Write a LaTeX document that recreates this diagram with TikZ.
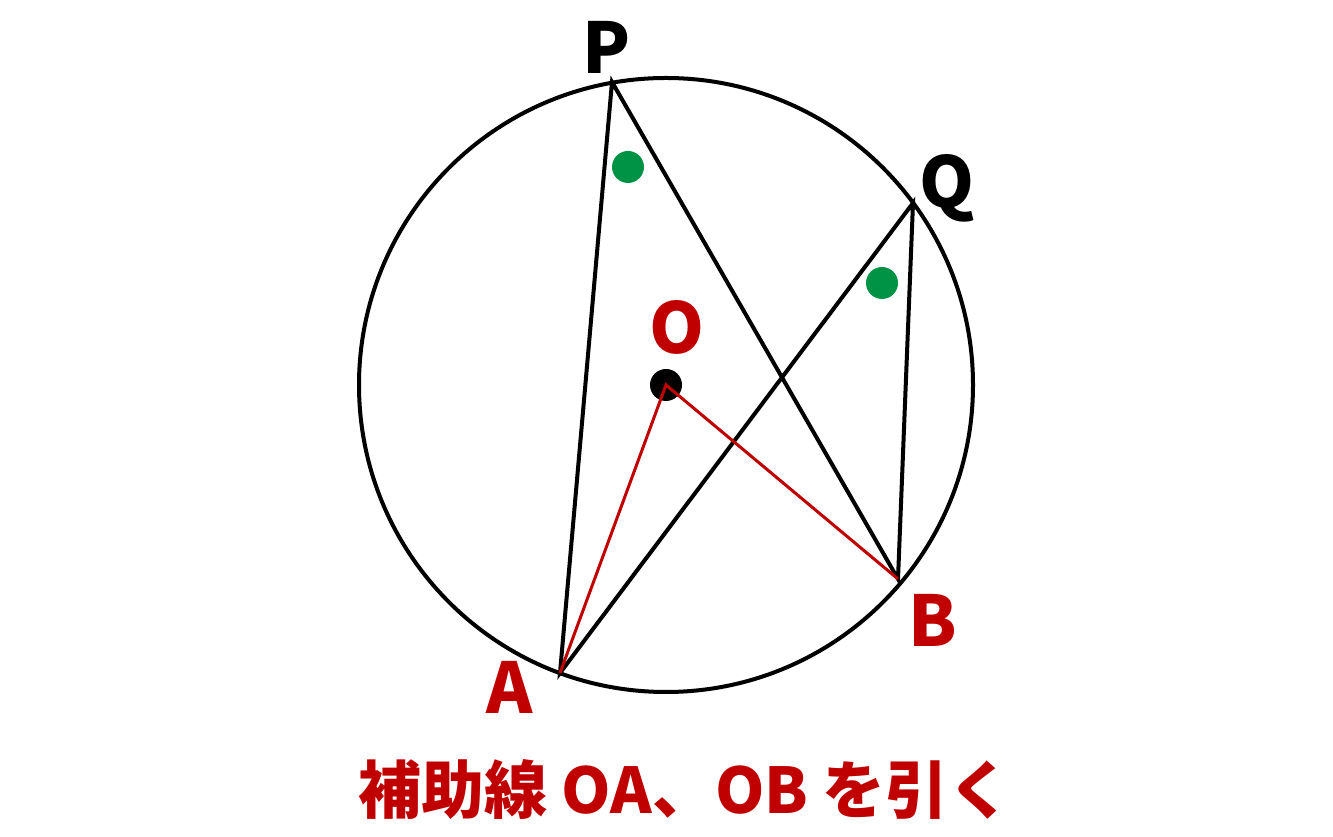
\documentclass[tikz,border=0pt]{standalone}
\usepackage{fontspec}
\setmainfont{Noto Sans CJK JP}
\definecolor{auxred}{RGB}{192,0,0}
\definecolor{markgreen}{RGB}{0,146,69}
\tikzset{
  chord/.style={line width=4pt, line join=miter},
  aux/.style={auxred, line width=3pt},
  ptlabel/.style={font=\fontsize{70}{80}\selectfont\bfseries, inner sep=0pt},
  mark/.style={fill=markgreen}
}
\begin{document}
\begin{tikzpicture}[x=1pt,y=1pt]
	\useasboundingbox (0,0) rectangle (1333,837);
	% points on the circle
	\coordinate (O) at (666,452);
	\coordinate (P) at (612,755);
	\coordinate (Q) at (913,634);
	\coordinate (B) at (898,258);
	\coordinate (A) at (560,164);
	\draw[line width=4pt] (O) circle (307);
	\draw[chord] (A) -- (P) -- (B) -- (Q) -- cycle;
	% equal angles
	\fill[markgreen] (628,670) circle (16);
	\fill[markgreen] (882,554) circle (16);
	\fill (O) circle (16);
	\draw[aux] (A) -- (O) -- (B);
	% labels
	\node[ptlabel] (lP) at (607,790) {P};
	\node[ptlabel] (lQ) at (947,649) {Q};
	\node[ptlabel, auxred] (lO) at (677,510) {O};
	\node[ptlabel, auxred] (lB) at (933,217) {B};
	\node[ptlabel, auxred] (lA) at (510,150) {A};
	\node[auxred, font=\fontsize{63}{72}\selectfont\bfseries] (cap) at (685,47) {補助線 OA、OB を引く};
\end{tikzpicture}
\end{document}
